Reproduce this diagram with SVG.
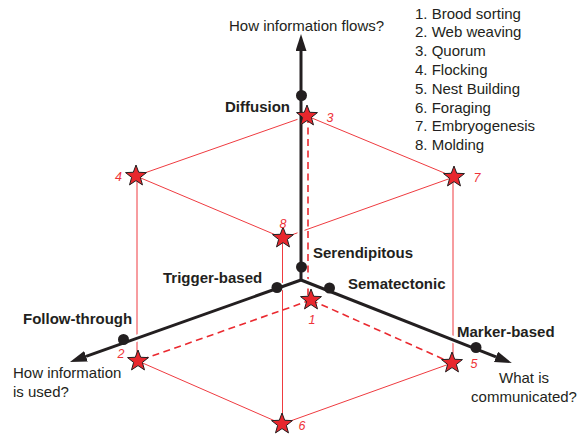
<svg xmlns="http://www.w3.org/2000/svg" xmlns:xlink="http://www.w3.org/1999/xlink" width="582" height="437" viewBox="0 0 582 437">
  <style>
    .edge { stroke: #ef3b40; stroke-width: 1; fill: none; }
    .hidden { stroke: #ea2a30; stroke-width: 1.6; stroke-dasharray: 7 4.5; fill: none; }
    .halo { stroke: #ffffff; stroke-width: 7; fill: none; }
    .axis { stroke: #231f20; stroke-width: 3; fill: none; }
    .dot { fill: #231f20; }
    .star { fill: #e8272d; stroke: #231f20; stroke-width: 1; stroke-linejoin: miter; }
    .num { font-family: "Liberation Sans", Arial, sans-serif; font-size: 12.5px; font-style: italic; fill: #ee3338; }
    .lbl { font-family: "Liberation Sans", Arial, sans-serif; font-size: 15px; font-weight: bold; fill: #231f20; }
    .txt { font-family: "Liberation Sans", Arial, sans-serif; font-size: 15px; fill: #231f20; }
  </style>
  <defs>
    <marker id="arrow" markerUnits="userSpaceOnUse" markerWidth="18" markerHeight="12" refX="0" refY="5.5" orient="auto">
      <path d="M0,0 L17,5.5 L0,11 Z" fill="#231f20"/>
    </marker>
    <path id="star" d="M0,-11 L2.7,-3.72 L10.46,-3.4 L4.37,1.42 L6.47,8.9 L0,4.6 L-6.47,8.9 L-4.37,1.42 L-10.46,-3.4 L-2.7,-3.72 Z"/>
  </defs>
  <rect width="582" height="437" fill="#ffffff"/>

  <!-- connectors: cube edges (hidden ones dashed) and the three axes -->
  <g id="connectors">
    <g id="cube-edges">
      <line class="edge" x1="307" y1="116" x2="136" y2="176"/>
      <line class="edge" x1="307" y1="116" x2="454" y2="177"/>
      <line class="edge" x1="136" y1="176" x2="283" y2="238"/>
      <line class="edge" x1="283" y1="238" x2="454" y2="177"/>
      <line class="edge" x1="137" y1="176" x2="137" y2="361"/>
      <line class="edge" x1="453" y1="177" x2="453" y2="363"/>
      <line class="edge" x1="282.5" y1="238" x2="282.5" y2="424"/>
      <line class="edge" x1="138" y1="361" x2="282" y2="424"/>
      <line class="edge" x1="282" y1="424" x2="452" y2="363"/>
      <line class="hidden" x1="308" y1="116" x2="308" y2="300"/>
      <line class="hidden" x1="311" y1="300" x2="138" y2="361"/>
      <line class="hidden" x1="311" y1="300" x2="452" y2="363"/>
    </g>
    <g id="axes">
      <line class="halo" x1="301" y1="280" x2="301" y2="60"/>
      <line class="halo" x1="301" y1="280" x2="95" y2="353"/>
      <line class="halo" x1="301" y1="280" x2="488" y2="353"/>
      <line class="axis" x1="301" y1="280" x2="301" y2="51" marker-end="url(#arrow)"/>
      <line class="axis" x1="301" y1="280" x2="86" y2="356.3" marker-end="url(#arrow)"/>
      <line class="axis" x1="301" y1="280" x2="496" y2="356.8" marker-end="url(#arrow)"/>
    </g>
  </g>

  <!-- axis titles -->
  <g id="axis-flow">
    <text class="txt" x="229" y="30.5">How information flows?</text>
  </g>
  <g id="axis-use">
    <text class="txt" x="13" y="378">How information</text>
    <text class="txt" x="13" y="397">is used?</text>
  </g>
  <g id="axis-content">
    <text class="txt" x="524" y="383" text-anchor="middle">What is</text>
    <text class="txt" x="524" y="402" text-anchor="middle">communicated?</text>
  </g>

  <!-- axis values -->
  <g id="diffusion"><circle class="dot" cx="301.5" cy="95.5" r="5.5"/><text class="lbl" x="290" y="112" text-anchor="end">Diffusion</text></g>
  <g id="serendipitous"><circle class="dot" cx="301.5" cy="267" r="5.5"/><text class="lbl" x="313" y="258">Serendipitous</text></g>
  <g id="trigger-based"><circle class="dot" cx="277" cy="287.5" r="5.5"/><text class="lbl" x="163" y="283">Trigger-based</text></g>
  <g id="sematectonic"><circle class="dot" cx="329.5" cy="288" r="5.5"/><text class="lbl" x="348" y="288.5">Sematectonic</text></g>
  <g id="follow-through"><circle class="dot" cx="123.5" cy="339.5" r="5.5"/><text class="lbl" x="23" y="324">Follow-through</text></g>
  <g id="marker-based"><circle class="dot" cx="476" cy="347.5" r="5.5"/><text class="lbl" x="457" y="336.5">Marker-based</text></g>

  <!-- behaviours at the cube corners -->
  <g id="v1"><use xlink:href="#star" class="star" x="311" y="300"/><text class="num" x="312" y="323.5" text-anchor="middle">1</text></g>
  <g id="v2"><use xlink:href="#star" class="star" x="138" y="361"/><text class="num" x="121" y="358" text-anchor="middle">2</text></g>
  <g id="v3"><use xlink:href="#star" class="star" x="307" y="116"/><text class="num" x="330" y="121.5" text-anchor="middle">3</text></g>
  <g id="v4"><use xlink:href="#star" class="star" x="136" y="176"/><text class="num" x="118.5" y="181" text-anchor="middle">4</text></g>
  <g id="v5"><use xlink:href="#star" class="star" x="452" y="363"/><text class="num" x="474" y="368" text-anchor="middle">5</text></g>
  <g id="v6"><use xlink:href="#star" class="star" x="282" y="424"/><text class="num" x="302" y="429.5" text-anchor="middle">6</text></g>
  <g id="v7"><use xlink:href="#star" class="star" x="454" y="177"/><text class="num" x="477" y="181.5" text-anchor="middle">7</text></g>
  <g id="v8"><use xlink:href="#star" class="star" x="283" y="238"/><text class="num" x="283" y="227.5" text-anchor="middle">8</text></g>

  <!-- legend -->
  <g id="legend">
    <text class="txt" x="415" y="18.5">1. Brood sorting</text>
    <text class="txt" x="415" y="37.3">2. Web weaving</text>
    <text class="txt" x="415" y="56.1">3. Quorum</text>
    <text class="txt" x="415" y="74.9">4. Flocking</text>
    <text class="txt" x="415" y="93.7">5. Nest Building</text>
    <text class="txt" x="415" y="112.5">6. Foraging</text>
    <text class="txt" x="415" y="131.3">7. Embryogenesis</text>
    <text class="txt" x="415" y="150.1">8. Molding</text>
  </g>
</svg>
